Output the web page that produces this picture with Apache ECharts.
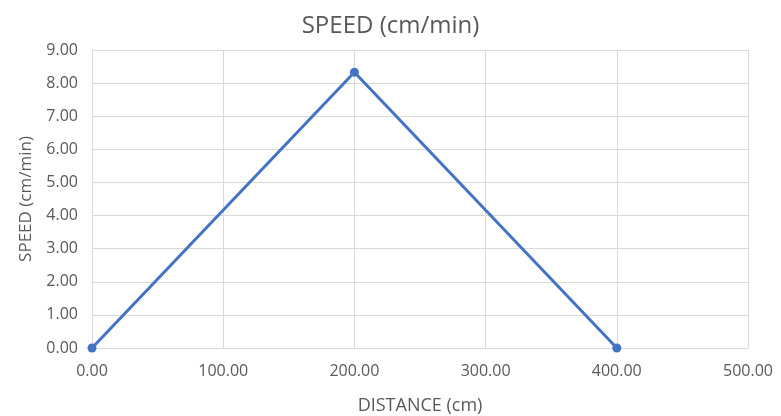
<!DOCTYPE html>
<html><head><meta charset="utf-8">
<script src="https://cdn.jsdelivr.net/npm/echarts@6/dist/echarts.min.js"></script>
<style>html,body{margin:0;padding:0;background:#fff}#c{width:781px;height:416px}</style>
</head><body><div id="c"></div>
<script>
const titleText = "SPEED (cm/min)";
const xName = "DISTANCE (cm)";
const yName = "SPEED (cm/min)";
const distance = [0, 200, 400];
const speed = [0, 8.33, 0];
const xTicks = {min: 0, max: 500, interval: 100};
const yTicks = {min: 0, max: 9, interval: 1};

const chart = echarts.init(document.getElementById('c'), null, {renderer: 'canvas'});
const font = "'Open Sans', sans-serif";
chart.setOption({
  animation: false,
  backgroundColor: '#fff',
  title: {text: titleText, left: 'center', top: 9,
    textStyle: {fontFamily: font, fontSize: 24, fontWeight: 'normal', color: '#595959'}},
  grid: {left: 92, right: 33, top: 50, bottom: 68, containLabel: false, outerBoundsMode: 'none'},
  xAxis: {type: 'value', min: xTicks.min, max: xTicks.max, interval: xTicks.interval,
    name: xName, nameLocation: 'middle', nameGap: 49,
    nameTextStyle: {fontFamily: font, fontSize: 18, color: '#595959'},
    axisLine: {show: true, lineStyle: {color: '#d9d9d9'}}, axisTick: {show: false},
    axisLabel: {fontFamily: font, fontSize: 16, color: '#595959', margin: 15, formatter: v => v.toFixed(2)},
    splitLine: {show: true, lineStyle: {color: '#d9d9d9'}}},
  yAxis: {type: 'value', min: yTicks.min, max: yTicks.max, interval: yTicks.interval,
    name: yName, nameLocation: 'middle', nameGap: 57,
    nameTextStyle: {fontFamily: font, fontSize: 17, color: '#595959'},
    axisLine: {show: false}, axisTick: {show: false},
    axisLabel: {fontFamily: font, fontSize: 16, color: '#595959', margin: 14, formatter: v => v.toFixed(2)},
    splitLine: {show: true, lineStyle: {color: '#d9d9d9'}}},
  series: [{type: 'line', data: distance.map((d, i) => [d, speed[i]]),
    symbol: 'circle', symbolSize: 9, showSymbol: true,
    lineStyle: {color: '#4472C4', width: 3}, itemStyle: {color: '#4472C4'}}]
});
</script></body></html>
